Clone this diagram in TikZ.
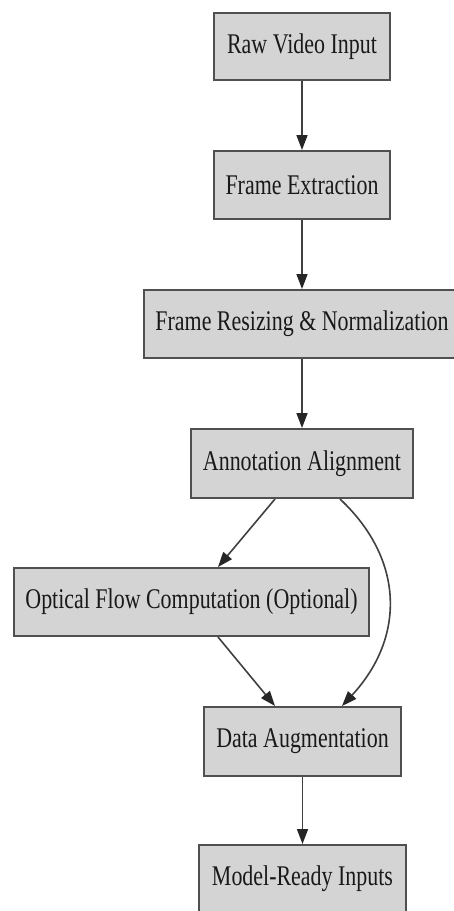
\documentclass[tikz,border=0pt]{standalone}
\usepackage{fontspec}
\setmainfont{Liberation Serif}
\usetikzlibrary{arrows.meta}
\definecolor{boxfill}{HTML}{D4D4D4}
\definecolor{boxline}{HTML}{505050}
\definecolor{edgecol}{HTML}{404040}
\newcommand{\sq}[1]{\scalebox{0.77}[1]{#1}}
\tikzset{
  stepbox/.style={draw=boxline, fill=boxfill, line width=2pt, rectangle,
    inner sep=0pt, text=black!90, font=\fontsize{28.5}{32}\selectfont},
  flow/.style={draw=edgecol, line width=1.6pt,
    -{Triangle[length=15pt,width=11pt,fill=black!85,color=black!85]}}
}
\begin{document}
\begin{tikzpicture}[x=1pt,y=-1pt]
\useasboundingbox (0,0) rectangle (454,911);
\clip (0,0) rectangle (454,911);
\fill[white] (0,0) rectangle (454,911);
\node[stepbox, minimum width=176pt, minimum height=67pt] (raw) at (302,46.5) {\sq{Raw Video Input}};
\node[stepbox, minimum width=176pt, minimum height=68pt] (fe) at (302,185) {\sq{Frame Extraction}};
\node[stepbox, minimum width=316pt, minimum height=68pt] (fr) at (302,324) {\sq{Frame Resizing \& Normalization}};
\node[stepbox, minimum width=222pt, minimum height=69pt] (aa) at (302,463.5) {\sq{Annotation Alignment}};
\node[stepbox, minimum width=355pt, minimum height=68pt] (of) at (191.5,602) {\sq{Optical Flow Computation (Optional)}};
\node[stepbox, minimum width=197pt, minimum height=69pt] (da) at (302.5,741.5) {\sq{Data Augmentation}};
\node[stepbox, minimum width=207pt, minimum height=68pt] (mr) at (302.5,879) {\sq{Model-Ready Inputs}};
\draw[flow] (raw) -- (fe);
\draw[flow] (fe) -- (fr);
\draw[flow] (fr) -- (aa);
\draw[flow] ([xshift=-27pt]aa.south) -- ([xshift=26.5pt]of.north);
\draw[flow] ([xshift=38pt]aa.south) .. controls (405,560) and (405,638) .. ([xshift=39.5pt]da.north);
\draw[flow] ([xshift=26.5pt]of.south) -- ([xshift=-27.5pt]da.north);
\draw[flow] (da) -- (mr);
\end{tikzpicture}
\end{document}
